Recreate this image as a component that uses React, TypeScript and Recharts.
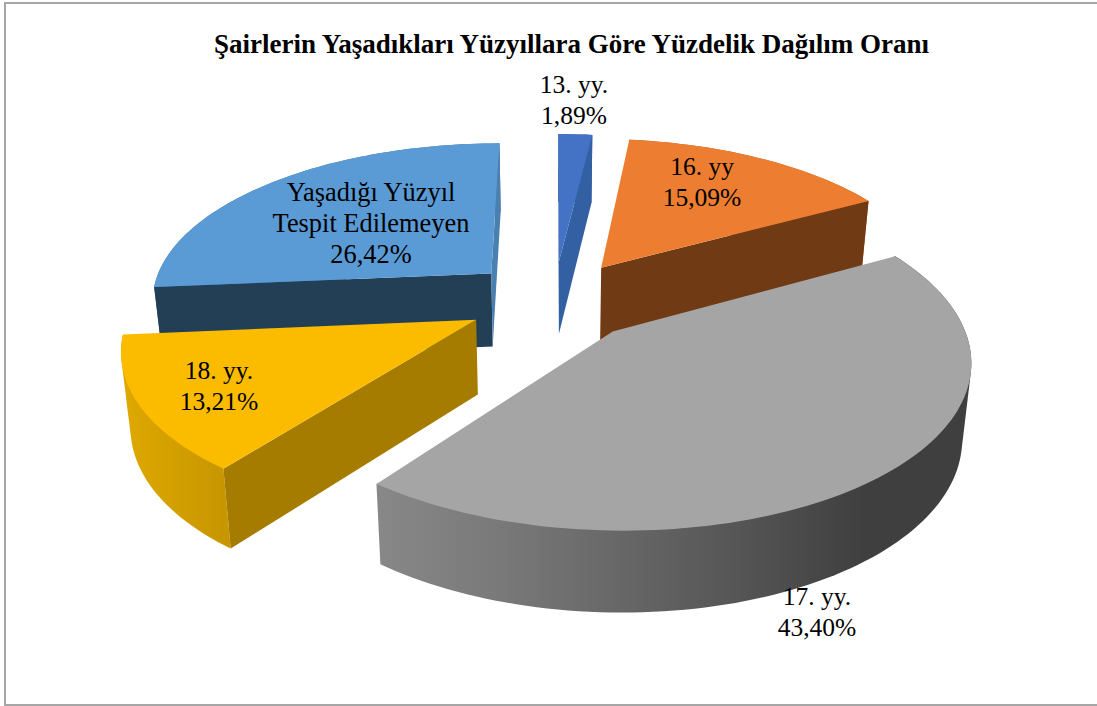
import React from 'react';
import { PieChart, Pie } from 'recharts';

const TITLE = 'Şairlerin Yaşadıkları Yüzyıllara Göre Yüzdelik Dağılım Oranı';
const categories = ['Yaşadığı Yüzyıl\nTespit Edilemeyen', '13. yy.', '16. yy', '17. yy.', '18. yy.'];
const percents = [26.42, 1.89, 15.09, 43.4, 13.21];

const topColors = ['#5b9bd5', '#4472c4', '#ed7d31', '#a5a5a5', '#fbbc00'];
const startEdgeColors = ['#223f55', '#2f5597', '#6f3a14', '#555555', '#a67c00'];
const endEdgeColors = ['#4a80b0', '#335fa3', '#6f3a14', '#555555', '#a67c00'];
const wallStops = [
  [['0%', '#3f6f9c'], ['100%', '#3f6f9c']],
  [['0%', '#335fa3'], ['100%', '#335fa3']],
  [['0%', '#a55a22'], ['100%', '#a55a22']],
  [['0%', '#888888'], ['22%', '#787878'], ['60%', '#565656'], ['82%', '#3f3f3f'], ['100%', '#3f3f3f']],
  [['0%', '#dfa900'], ['100%', '#c69500']],
];
const labelAnchors = [
  { x: 371, y: 201 },
  { x: 574, y: 93 },
  { x: 702, y: 175 },
  { x: 817, y: 605 },
  { x: 219, y: 379 },
];
const labelSizes = [26.4, 25.5, 25.5, 25.5, 25.5];

const data = categories.map((name, i) => ({ name, value: percents[i] }));
const total = percents.reduce((a, b) => a + b, 0);
const START = 90 + (360 * percents[0]) / total;

const TILT = 0.46;
const PERSP = 0.154;
const EXPLODE = 0.255;
const DEPTH = 74;
const CONVERGE = 0.978;
const LINE_H = 31;
const SERIF = '"Liberation Serif", "Times New Roman", serif';

type Pt = [number, number];

function hull(points: Pt[]): Pt[] {
  const pts = points.slice().sort((a, b) => a[0] - b[0] || a[1] - b[1]);
  const cross = (o: Pt, a: Pt, b: Pt) => (a[0] - o[0]) * (b[1] - o[1]) - (a[1] - o[1]) * (b[0] - o[0]);
  const lower: Pt[] = [];
  for (const p of pts) {
    while (lower.length >= 2 && cross(lower[lower.length - 2], lower[lower.length - 1], p) <= 0) lower.pop();
    lower.push(p);
  }
  const upper: Pt[] = [];
  for (const p of pts.slice().reverse()) {
    while (upper.length >= 2 && cross(upper[upper.length - 2], upper[upper.length - 1], p) <= 0) upper.pop();
    upper.push(p);
  }
  lower.pop();
  upper.pop();
  return lower.concat(upper);
}

function Slice3D(props: any) {
  const { cx, cy, outerRadius, startAngle, endAngle, index } = props;
  const rx = outerRadius;
  const ry = (outerRadius + 1) * TILT;
  const rad = (d: number) => (d * Math.PI) / 180;
  const t0 = 90 - startAngle;
  const t1 = 90 - endAngle;
  const tm = (t0 + t1) / 2;
  const ex = EXPLODE * Math.sin(rad(tm));
  const ey = EXPLODE * Math.cos(rad(tm));
  const proj = (X: number, Y: number, low: boolean): Pt => {
    const w = 1 + PERSP * (Y + ey);
    let sx = cx + (rx * (X + ex)) / w;
    let sy = cy - (ry * (Y + ey)) / w;
    if (low) {
      sx = cx + (sx - cx) * CONVERGE;
      sy += DEPTH / Math.sqrt(w);
    }
    return [sx, sy];
  };
  const rim = (t: number, low: boolean) => proj(Math.sin(rad(t)), Math.cos(rad(t)), low);
  const apex = (low: boolean) => proj(0, 0, low);
  const steps = Math.max(4, Math.ceil((t1 - t0) / 1.5));
  const ts: number[] = [];
  for (let i = 0; i <= steps; i++) ts.push(t0 + ((t1 - t0) * i) / steps);
  const path = (pts: Pt[]) => 'M' + pts.map((p) => p[0].toFixed(2) + ',' + p[1].toFixed(2)).join('L') + 'Z';
  const area = (pts: Pt[]) => {
    let s = 0;
    pts.forEach((p, i) => {
      const q = pts[(i + 1) % pts.length];
      s += p[0] * q[1] - q[0] * p[1];
    });
    return s;
  };
  const wall = hull([...ts.map((t) => rim(t, false)), ...ts.map((t) => rim(t, true))]);
  const top: Pt[] = [apex(false), ...ts.map((t) => rim(t, false))];
  const startFace: Pt[] = [apex(false), rim(t0, false), rim(t0, true), apex(true)];
  const endFace: Pt[] = [apex(false), rim(t1, false), rim(t1, true), apex(true)];
  const gid = 'wall-' + index;
  return (
    <g>
      <defs>
        <linearGradient id={gid} x1="0" y1="0" x2="1" y2="0">
          {wallStops[index].map((s) => (
            <stop key={s[0]} offset={s[0]} stopColor={s[1]} />
          ))}
        </linearGradient>
      </defs>
      <path d={path(wall)} fill={`url(#${gid})`} />
      {area(startFace) < 0 && <path d={path(startFace)} fill={startEdgeColors[index]} />}
      {area(endFace) > 0 && <path d={path(endFace)} fill={endEdgeColors[index]} />}
      <path d={path(top)} fill={topColors[index]} />
    </g>
  );
}

function SliceLabel(props: any) {
  const { index, payload, value } = props;
  const name = (payload && payload.name) || categories[index];
  const lines = [...String(name).split('\n'), Number(value).toFixed(2).replace('.', ',') + '%'];
  const a = labelAnchors[index];
  return (
    <text x={a.x} y={a.y} textAnchor="middle" fontFamily={SERIF} fontSize={labelSizes[index]} fill="#000">
      {lines.map((l, i) => (
        <tspan key={i} x={a.x} y={a.y + i * LINE_H}>
          {l}
        </tspan>
      ))}
    </text>
  );
}

export default function App() {
  return (
    <div style={{ position: 'absolute', left: 0, top: 0, width: 1097, height: 706, background: '#fff', overflow: 'hidden' }}>
      <PieChart width={1097} height={706} margin={{ top: 0, right: 0, bottom: 0, left: 0 }}>
        <rect x={5} y={3} width={1200} height={702} fill="none" stroke="#a6a6a6" strokeWidth={2} />
        <text x={571.5} y={53} textAnchor="middle" fontFamily={SERIF} fontSize={27} fontWeight="bold" fill="#000">
          {TITLE}
        </text>
        <Pie
          data={data}
          dataKey="value"
          nameKey="name"
          cx={554}
          cy={300}
          innerRadius={0}
          outerRadius={342}
          startAngle={START}
          endAngle={START - 360}
          stroke="none"
          isAnimationActive={false}
          shape={Slice3D}
          label={SliceLabel}
          labelLine={false}
        />
      </PieChart>
    </div>
  );
}
